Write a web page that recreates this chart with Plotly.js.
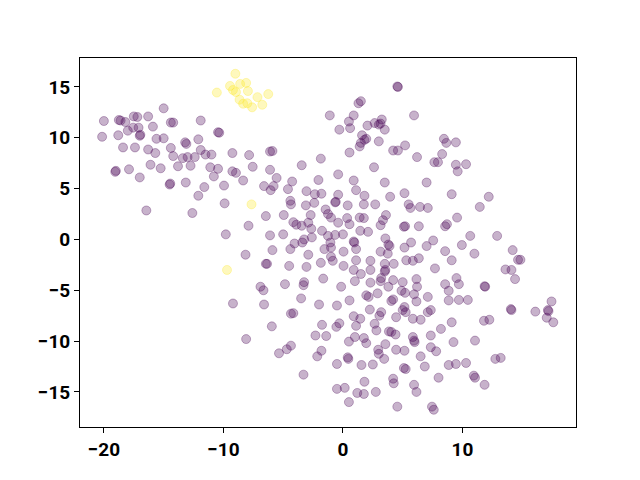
<!DOCTYPE html>
<html>
<head>
<meta charset="utf-8">
<script src="https://cdn.plot.ly/plotly-3.0.1.min.js"></script>
<style>html,body{margin:0;padding:0;background:#fff;}#chart{width:640px;height:480px;}</style>
</head>
<body>
<div id="chart"></div>
<script>
// Class 0 (purple) points
const purpleX = [
-15.0,-20.0,-18.75,-18.6,-17.5,-17.2,-16.3,-18.2,-17.55,-17.1,-15.9,-14.4,-14.2,-11.9,-20.15,-18.8,-18.0,-17.0,-16.95,-15.6,
-15.0,-13.2,-13.1,-12.1,-18.4,-17.4,-16.3,-15.7,-14.4,-14.2,-13.4,-13.0,-12.4,-11.9,-12.75,-13.8,-16.1,-15.25,-17.9,-19.0,
-19.05,-17.0,-14.5,-14.45,-13.15,-12.1,-11.6,-16.45,-12.6,
-1.1,-10.45,-10.35,-11.5,-11.0,-9.25,-7.85,-6.1,-5.9,-1.85,-11.1,-10.45,-9.25,-8.95,-7.55,-6.1,-3.45,-10.8,-8.35,-5.55,-4.25,-2.05,
-9.95,-6.6,-5.8,-6.05,-4.6,-3.05,-2.35,-1.8,-9.9,-4.4,-4.35,-3.1,-2.4,-1.45,-6.45,-4.95,-2.7,-7.9,-4.15,-3.9,-3.45,-2.9,-2.65,-1.75,
-9.8,-6.1,-5.0,-4.05,-3.4,-3.25,-2.6,-4.4,-5.9,-2.9,-1.55,-8.15,-6.45,-6.35,-4.5,-3.05,-1.85,-4.85,-3.25,-3.3,-1.65,-6.9,-6.65,-3.5,
-9.2,-6.6,-2.0,
-4.35,-4.15,-5.95,-8.1,-1.75,-2.3,-1.4,-5.35,-4.7,-4.35,-1.8,-2.15,-3.3,
4.6,4.55,1.3,1.5,0.5,0.9,-0.3,0.6,2.05,2.65,3.0,3.15,3.25,3.5,5.95,1.6,1.8,1.5,1.4,1.95,3.0,0.55,4.2,4.6,5.2,6.2,8.45,8.65,8.3,
7.65,7.95,2.6,-0.4,0.9,3.5,7.0,
9.45,9.45,9.6,10.3,
1.1,-0.4,-0.65,-0.6,1.8,3.95,5.15,0.4,1.75,2.7,5.5,5.65,6.45,7.1,9.1,-1.25,-1.0,-0.4,0.35,0.55,1.4,1.75,3.6,3.35,3.15,1.45,2.1,
-1.25,-0.65,0.0,5.1,5.2,6.35,8.55,8.7,3.55,0.9,0.95,3.8,3.9,5.7,5.15,7.0,7.55,-1.05,-1.0,0.05,1.1,3.15,3.75,-1.0,-0.85,1.1,2.3,
5.3,5.85,6.35,8.55,9.1,0.05,0.9,2.3,3.5,3.55,3.5,4.25,7.7,1.5,1.0,3.2,3.15,4.2,5.0,6.15,6.2,2.3,-0.15,2.9,3.8,1.95,2.15,5.2,4.9,
5.95,7.1,8.55,8.85,0.55,4.05,4.2,6.15,8.85,
12.2,11.45,9.55,10.65,9.95,12.9,11.0,14.2,14.65,14.85,13.6,14.1,14.4,9.5,9.7,11.9,11.85,9.7,10.45,17.45,
17.2,17.15,17.05,17.6,16.1,14.1,14.05,11.8,12.25,9.1,11.05,9.25,12.75,13.2,9.45,10.3,10.95,11.05,11.85,
-0.5,2.25,3.2,3.05,5.0,5.25,5.15,7.1,7.35,0.9,1.45,-0.3,-0.55,1.1,2.65,2.8,4.45,5.85,6.5,8.2,1.0,0.5,1.75,1.95,3.85,4.05,4.4,
3.55,5.85,5.95,6.0,7.35,7.35,7.8,2.95,3.0,3.45,4.45,5.15,0.4,0.45,6.5,-0.5,1.55,2.5,5.1,5.25,6.85,8.85,8.0,4.2,4.25,1.8,-0.5,
0.15,1.2,1.75,2.75,5.95,6.15,0.5,4.55,7.45,7.6
];
const purpleY = [
12.9,11.65,11.75,11.7,12.1,12.05,12.1,11.55,11.0,11.0,11.1,11.5,11.5,11.7,10.1,10.25,10.7,10.2,10.3,9.9,
9.95,9.55,9.4,9.85,9.05,9.05,8.85,8.5,9.0,8.2,8.0,8.1,8.1,8.8,7.25,7.2,7.35,7.0,6.9,6.75,
6.65,6.1,5.4,5.5,5.6,4.3,5.15,2.85,2.6,
12.2,10.55,10.5,8.35,8.35,8.5,8.3,8.65,8.7,7.95,7.1,6.95,6.7,6.55,7.15,6.85,7.3,6.2,5.8,6.05,5.7,5.85,
5.3,5.25,5.25,4.85,4.95,4.75,4.45,4.5,3.55,3.8,3.45,3.35,3.6,2.95,2.3,2.4,2.4,1.35,1.7,1.45,1.35,1.65,1.05,0.85,
0.5,0.4,0.5,-0.4,-0.3,0.0,0.2,-0.95,-1.05,-1.5,-0.95,-1.5,-2.4,-2.4,-2.6,-2.7,-2.3,-4.4,-4.2,-4.5,-3.85,-4.65,-5.0,-5.8,
-6.3,-6.4,-6.4,
-7.3,-7.25,-8.55,-9.8,-8.4,-9.45,-9.5,-11.2,-10.8,-10.45,-10.95,-11.5,-13.3,
15.0,15.05,13.4,13.6,11.6,12.2,10.8,10.95,11.2,11.45,11.3,11.4,11.8,10.8,12.2,10.25,9.8,9.5,9.15,9.9,9.65,8.55,8.75,8.75,9.25,8.1,9.9,9.5,8.4,
7.6,7.6,7.1,6.4,5.8,5.6,5.6,
9.55,7.35,6.7,7.4,
4.85,4.4,3.65,3.7,4.3,4.2,4.55,3.35,3.45,3.45,3.45,3.1,3.2,3.1,4.45,2.5,2.15,1.65,2.1,1.5,2.15,2.1,2.4,1.9,1.4,0.85,0.75,
0.35,0.45,0.5,1.25,1.3,1.3,1.3,1.5,0.1,-0.2,-0.3,-0.5,-0.65,-0.3,-0.8,-0.65,-0.1,-0.3,-0.8,-1.2,-0.95,-1.2,-1.4,-1.7,-2.1,-2.05,-2.1,
-2.05,-2.1,-1.85,-1.15,-2.05,-2.6,-3.0,-3.0,-2.4,-3.0,-3.15,-2.4,-2.85,-3.4,-4.1,-3.8,-4.1,-4.0,-4.2,-3.9,-4.65,-4.25,-4.65,-5.3,-4.65,-5.5,-5.65,-5.25,-5.05,
-5.4,-5.65,-4.4,-5.05,-6.0,-6.05,-5.9,-6.1,-6.0,
4.2,3.2,2.15,0.35,-0.55,0.35,-1.4,-1.05,-2.0,-2.0,-2.95,-3.0,-3.9,-3.8,-4.4,-4.65,-4.6,-5.95,-5.95,-6.1,
-7.05,-6.95,-7.7,-8.15,-7.1,-6.95,-6.85,-8.0,-7.9,-8.15,-9.95,-10.1,-11.75,-11.65,-12.25,-12.15,-13.4,-13.6,-14.3,
-6.5,-6.9,-7.15,-7.5,-6.95,-7.15,-6.65,-7.15,-6.95,-7.55,-7.8,-8.25,-8.6,-8.5,-8.3,-8.95,-7.65,-7.8,-7.9,-8.8,-9.6,-10.05,-9.7,-10.2,-9.05,-9.1,-9.35,
-10.3,-9.6,-9.95,-10.1,-9.45,-10.6,-11.0,-10.85,-11.25,-11.75,-10.85,-10.95,-11.6,-11.75,-11.5,-12.25,-12.35,-12.3,-12.65,-12.75,-12.5,-12.35,-13.6,-13.7,-14.15,-14.0,-14.7,
-14.6,-15.1,-15.2,-15.0,-14.3,-15.0,-16.0,-16.45,-16.45,-16.75
];
// Class 1 (yellow) points
const yellowX = [-9.0,-10.55,-9.45,-9.2,-8.95,-8.6,-8.1,-7.95,-8.65,-8.35,-8.0,-7.6,-7.15,-6.75,-6.25,-7.65,-9.7];
const yellowY = [16.3,14.45,15.1,14.7,14.5,15.3,15.4,14.6,13.75,13.35,13.4,13.0,14.0,13.25,14.3,3.45,-3.0];
const xTicks = [-20,-10,0,10];
const yTicks = [-15,-10,-5,0,5,10,15];
const fmt = v => (v < 0 ? '\u2212' + Math.abs(v) : String(v));

const mk = (rgba) => ({size: 9, color: rgba, line: {color: rgba, width: 1}});
const traces = [
  {x: purpleX, y: purpleY, type: 'scatter', mode: 'markers', marker: mk('rgba(68,1,84,0.3)'), hoverinfo: 'skip'},
  {x: yellowX, y: yellowY, type: 'scatter', mode: 'markers', marker: mk('rgba(253,231,37,0.3)'), hoverinfo: 'skip'}
];
const axisBase = {showgrid: false, zeroline: false, showline: true, mirror: true, linecolor: '#000', linewidth: 1,
  ticks: 'outside', ticklen: 5, tickwidth: 1, tickcolor: '#000',
  tickfont: {family: 'Roboto, sans-serif', size: 19, color: '#000', weight: 'bold'}};
const layout = {
  width: 640, height: 480, showlegend: false,
  paper_bgcolor: '#fff', plot_bgcolor: '#fff',
  margin: {l: 80, r: 64, t: 58, b: 53},
  xaxis: Object.assign({}, axisBase, {range: [-22.0, 19.5], tickmode: 'array', tickvals: xTicks, ticktext: xTicks.map(fmt)}),
  yaxis: Object.assign({}, axisBase, {range: [-18.45, 17.85], tickmode: 'array', tickvals: yTicks, ticktext: yTicks.map(fmt)})
};
Plotly.newPlot('chart', traces, layout, {staticPlot: true});
</script>
</body>
</html>
